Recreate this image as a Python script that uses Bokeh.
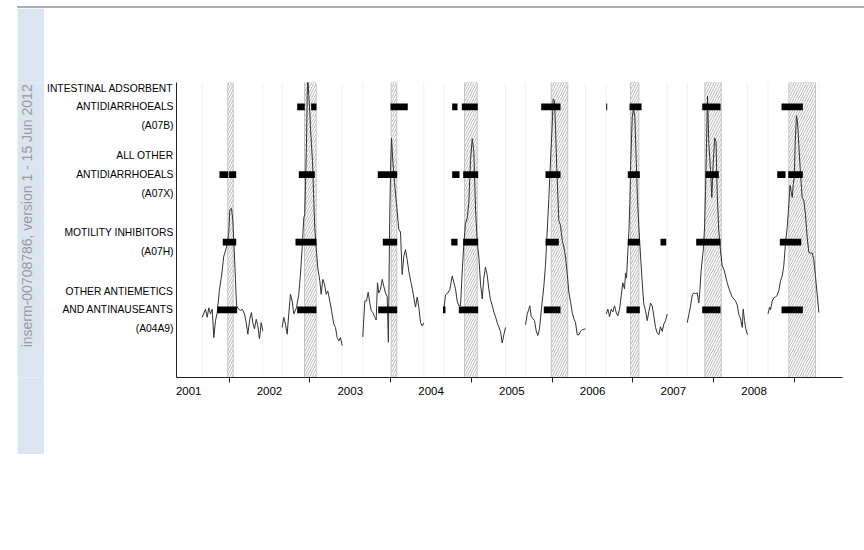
import numpy as np
from bokeh.plotting import figure
from bokeh.models import Range1d, FixedTicker, LinearAxis, Label, Div, Spacer
from bokeh.layouts import row, column
from bokeh.embed import file_html
from bokeh.resources import INLINE

# ---------------- data ----------------
years = [2001, 2002, 2003, 2004, 2005, 2006, 2007, 2008]

class_labels = {
    4: "INTESTINAL ADSORBENT\nANTIDIARRHOEALS\n(A07B)",
    3: "ALL OTHER\nANTIDIARRHOEALS\n(A07X)",
    2: "MOTILITY INHIBITORS\n(A07H)",
    1: "OTHER ANTIEMETICS\nAND ANTINAUSEANTS\n(A04A9)",
}

# epidemic periods (sentinel network), decimal years
epi_start = [2001.984, 2002.934, 2004.007, 2004.914, 2005.988, 2006.970, 2007.890, 2008.930]
epi_end = [2002.051, 2003.078, 2004.076, 2005.072, 2006.193, 2007.073, 2008.093, 2009.260]

# detected alert periods per drug class
a07b_start = [2002.843, 2003.016, 2003.998, 2004.762, 2004.881, 2005.864, 2006.669, 2006.957, 2007.857, 2008.839]
a07b_end = [2002.937, 2003.082, 2004.212, 2004.828, 2005.079, 2006.103, 2006.681, 2007.106, 2008.084, 2009.103]
a07x_start = [2001.881, 2002.000, 2002.863, 2003.841, 2004.762, 2004.898, 2005.917, 2006.936, 2007.898, 2008.786, 2008.922]
a07x_end = [2001.990, 2002.088, 2003.061, 2004.081, 2004.853, 2005.084, 2006.103, 2007.085, 2008.063, 2008.889, 2009.103]
a07h_start = [2001.922, 2002.822, 2003.903, 2004.750, 2004.898, 2005.917, 2006.936, 2007.341, 2007.783, 2008.818]
a07h_end = [2002.088, 2003.082, 2004.081, 2004.828, 2005.084, 2006.082, 2007.085, 2007.412, 2008.084, 2009.083]
a04a9_start = [2001.853, 2002.843, 2003.846, 2004.648, 2004.844, 2005.896, 2006.920, 2007.857, 2008.839]
a04a9_end = [2002.100, 2003.082, 2004.081, 2004.679, 2005.084, 2006.103, 2007.085, 2008.084, 2009.103]

# weekly series per season (decimal year, scaled value)
season1_t = [2001.667, 2001.708, 2001.729, 2001.749, 2001.770, 2001.791, 2001.811, 2001.832, 2001.853, 2001.881,
             2001.906, 2001.934, 2001.955, 2001.976, 2001.996, 2002.009, 2002.030, 2002.046, 2002.063, 2002.079,
             2002.092, 2002.120, 2002.141, 2002.162, 2002.191, 2002.212, 2002.232, 2002.256, 2002.277, 2002.293,
             2002.314, 2002.336, 2002.355, 2002.376, 2002.397, 2002.417]
season1_v = [0.89, 1.01, 0.89, 1.03, 0.94, 1.01, 0.59, 0.84, 0.96, 1.30, 1.50, 1.79, 1.87, 1.97, 2.14, 2.48, 2.50,
             2.33, 1.89, 1.45, 1.06, 1.01, 0.99, 1.01, 0.94, 0.81, 0.64, 0.86, 0.96, 0.81, 0.72, 0.86, 0.77, 0.57,
             0.81, 0.69]

season2_t = [2002.657, 2002.677, 2002.698, 2002.719, 2002.739, 2002.760, 2002.781, 2002.801, 2002.834, 2002.863,
             2002.884, 2002.905, 2002.925, 2002.937, 2002.958, 2002.967, 2002.974, 2002.987, 2002.999, 2003.008,
             2003.020, 2003.033, 2003.049, 2003.061, 2003.078, 2003.098, 2003.123, 2003.140, 2003.160, 2003.181,
             2003.202, 2003.222, 2003.247, 2003.268, 2003.296, 2003.317, 2003.338, 2003.358, 2003.379, 2003.400]
season2_v = [0.74, 0.89, 0.79, 0.64, 0.94, 1.23, 1.13, 0.94, 1.03, 1.23, 1.53, 1.92, 2.36, 2.41, 3.44, 4.17, 4.45,
             4.17, 3.93, 3.68, 3.44, 3.19, 2.60, 2.21, 1.92, 1.62, 1.43, 1.23, 1.45, 1.38, 1.23, 1.28, 1.13, 0.99,
             0.79, 0.74, 0.59, 0.54, 0.59, 0.47]

season3_t = [2003.655, 2003.680, 2003.701, 2003.722, 2003.738, 2003.759, 2003.779, 2003.800, 2003.821, 2003.837,
             2003.853, 2003.874, 2003.896, 2003.915, 2003.936, 2003.957, 2003.972, 2003.990, 2004.002, 2004.011,
             2004.027, 2004.048, 2004.081, 2004.101, 2004.122, 2004.143, 2004.163, 2004.184, 2004.205, 2004.225,
             2004.246, 2004.267, 2004.287, 2004.308, 2004.329, 2004.349, 2004.370, 2004.391, 2004.411]
season3_v = [0.60, 1.13, 1.13, 1.26, 1.13, 0.99, 0.96, 0.90, 0.85, 1.40, 1.25, 1.30, 1.45, 1.35, 1.25, 1.20, 0.52,
             2.48, 3.20, 3.54, 3.20, 2.88, 2.45, 2.19, 2.15, 1.52, 1.79, 1.89, 1.74, 1.57, 1.44, 1.32, 1.18, 1.04,
             1.19, 1.04, 0.81, 0.76, 0.81]

season4_t = [2004.658, 2004.679, 2004.708, 2004.733, 2004.762, 2004.803, 2004.824, 2004.844, 2004.865, 2004.886,
             2004.906, 2004.927, 2004.948, 2004.968, 2004.989, 2005.010, 2005.030, 2005.051, 2005.072, 2005.092,
             2005.113, 2005.134, 2005.153, 2005.174, 2005.196, 2005.215, 2005.236, 2005.257, 2005.277, 2005.298,
             2005.319, 2005.339, 2005.360, 2005.381, 2005.401, 2005.422]
season4_v = [1.00, 1.22, 1.25, 1.30, 1.50, 1.31, 1.13, 1.06, 1.06, 1.56, 1.97, 2.28, 2.35, 2.59, 3.21, 3.53, 3.34,
             2.49, 2.00, 1.78, 1.38, 1.16, 1.46, 1.63, 1.51, 1.31, 1.15, 1.07, 0.97, 0.90, 0.81, 0.75, 0.68, 0.51,
             0.63, 0.74]

season5_t = [2005.670, 2005.691, 2005.711, 2005.723, 2005.740, 2005.760, 2005.781, 2005.802, 2005.822, 2005.843,
             2005.868, 2005.896, 2005.917, 2005.938, 2005.958, 2005.979, 2006.000, 2006.012, 2006.029, 2006.041,
             2006.057, 2006.082, 2006.103, 2006.124, 2006.144, 2006.165, 2006.186, 2006.206, 2006.227, 2006.248,
             2006.268, 2006.289, 2006.310, 2006.330, 2006.351, 2006.372, 2006.392, 2006.413]
season5_v = [0.78, 0.94, 1.01, 1.06, 0.90, 0.87, 0.84, 0.69, 0.62, 0.72, 1.03, 1.34, 1.66, 2.15, 2.63, 3.20, 3.72,
             4.12, 4.09, 3.69, 3.09, 2.32, 2.25, 2.03, 1.93, 1.78, 1.54, 1.26, 1.12, 0.96, 0.87, 0.81, 0.63, 0.63,
             0.68, 0.71, 0.71, 0.72]

season6_t = [2006.669, 2006.689, 2006.710, 2006.731, 2006.751, 2006.772, 2006.793, 2006.812, 2006.834, 2006.855,
             2006.874, 2006.895, 2006.908, 2006.920, 2006.936, 2006.949, 2006.961, 2006.973, 2006.991, 2007.007,
             2007.023, 2007.040, 2007.056, 2007.072, 2007.093, 2007.114, 2007.134, 2007.155, 2007.177, 2007.196,
             2007.217, 2007.238, 2007.258, 2007.279, 2007.300, 2007.320, 2007.341, 2007.362, 2007.382, 2007.403,
             2007.424]
season6_v = [0.94, 1.01, 0.90, 1.01, 0.97, 1.06, 0.96, 0.91, 1.01, 1.21, 1.40, 1.31, 1.54, 1.47, 1.84, 2.13, 2.57,
             3.21, 3.85, 3.97, 3.85, 3.22, 2.63, 2.24, 1.81, 1.41, 1.09, 0.99, 0.84, 0.97, 1.10, 1.06, 0.91, 0.74,
             0.66, 0.63, 0.75, 0.68, 0.79, 0.84, 0.94]

season7_t = [2007.672, 2007.692, 2007.713, 2007.734, 2007.753, 2007.775, 2007.796, 2007.815, 2007.828, 2007.845,
             2007.870, 2007.886, 2007.898, 2007.911, 2007.923, 2007.939, 2007.960, 2007.976, 2007.991, 2008.012,
             2008.028, 2008.043, 2008.063, 2008.084, 2008.105, 2008.125, 2008.146, 2008.167, 2008.187, 2008.208,
             2008.229, 2008.249, 2008.270, 2008.291, 2008.311, 2008.332, 2008.353, 2008.365, 2008.381, 2008.397,
             2008.418]
season7_v = [0.81, 0.93, 1.06, 1.22, 1.25, 1.24, 1.25, 1.10, 1.28, 1.60, 1.88, 2.21, 2.75, 3.46, 4.16, 3.46, 3.07,
             2.66, 3.12, 3.54, 3.49, 2.72, 2.16, 1.87, 1.65, 1.60, 1.50, 1.40, 1.32, 1.25, 1.19, 1.16, 1.13, 1.07,
             0.93, 0.87, 0.74, 1.01, 0.84, 0.72, 0.63]

season8_t = [2008.672, 2008.691, 2008.703, 2008.724, 2008.744, 2008.765, 2008.783, 2008.806, 2008.827, 2008.848,
             2008.868, 2008.889, 2008.910, 2008.930, 2008.944, 2008.959, 2008.972, 2008.984, 2008.997, 2009.009,
             2009.024, 2009.037, 2009.053, 2009.074, 2009.095, 2009.115, 2009.136, 2009.157, 2009.177, 2009.198,
             2009.219, 2009.239, 2009.260, 2009.281, 2009.301]
season8_v = [0.94, 1.04, 1.00, 1.13, 1.18, 1.19, 1.21, 1.29, 1.43, 1.50, 1.66, 2.00, 2.22, 2.57, 2.84, 2.75, 2.66,
             2.85, 2.96, 3.49, 3.87, 3.78, 3.44, 3.01, 2.66, 2.62, 2.40, 2.07, 1.85, 1.84, 1.84, 1.74, 1.49, 1.22,
             0.96]

# ---------------- main figure ----------------
Y_TOP = 4.36
FONT = "Liberation Sans"
H = 446

p = figure(width=812, height=H,
           x_range=Range1d(2001.349, 2009.594), y_range=Range1d(0, Y_TOP),
           x_axis_type=None, y_axis_type=None,
           output_backend="svg", toolbar_location=None,
           min_border_left=132, min_border_right=14, min_border_top=74, min_border_bottom=77)
p.outline_line_color = None
p.background_fill_color = "white"
p.border_fill_color = "white"

# x axis: year labels centred in the year, tick marks at Jan 1
xaxis = LinearAxis(
    ticker=FixedTicker(ticks=[y + 0.5 for y in years], minor_ticks=[y + 1 for y in years]),
    major_label_overrides={y + 0.5: str(y) for y in years})
xaxis.axis_line_color = "#222222"
xaxis.axis_line_width = 1
xaxis.major_tick_line_color = None
xaxis.major_tick_out = 0
xaxis.major_tick_in = 0
xaxis.minor_tick_line_color = "#222222"
xaxis.minor_tick_out = 5
xaxis.minor_tick_in = 0
xaxis.major_label_standoff = 4
xaxis.major_label_text_font = FONT
xaxis.major_label_text_font_size = "11.5px"
xaxis.major_label_text_color = "black"
p.add_layout(xaxis, "below")

yaxis = LinearAxis(ticker=FixedTicker(ticks=[1, 2, 3, 4]), major_label_overrides=class_labels)
yaxis.axis_line_color = "#222222"
yaxis.major_tick_line_color = None
yaxis.minor_tick_line_color = None
yaxis.major_tick_out = 0
yaxis.major_tick_in = 0
yaxis.major_label_standoff = 3
yaxis.major_label_text_font = FONT
yaxis.major_label_text_font_size = "10.3px"
yaxis.major_label_text_line_height = 1.7
yaxis.major_label_text_color = "black"
p.add_layout(yaxis, "left")

season_ts = [season1_t, season2_t, season3_t, season4_t, season5_t, season6_t, season7_t, season8_t]
season_vs = [season1_v, season2_v, season3_v, season4_v, season5_v, season6_v, season7_v, season8_v]

# faint season boundaries
bounds = [s[0] for s in season_ts] + [s[-1] for s in season_ts]
p.segment(x0=bounds, y0=0, x1=bounds, y1=Y_TOP, line_color="#f1f1f1", line_width=1)

# hatched epidemic periods
p.quad(left=epi_start, right=epi_end, bottom=0, top=Y_TOP,
       fill_color=None, line_color="#c4c4c4", line_width=1,
       hatch_pattern="/", hatch_color="#b8b8b8", hatch_scale=5, hatch_weight=1)

# weekly series
p.multi_line(xs=season_ts, ys=season_vs, line_color="#333333", line_width=1)

# alert bars
for level, starts, ends in [(4, a07b_start, a07b_end), (3, a07x_start, a07x_end),
                            (2, a07h_start, a07h_end), (1, a04a9_start, a04a9_end)]:
    p.hbar(y=[level] * len(starts), left=starts, right=ends, height=0.1,
           fill_color="black", line_color=None)

# ---------------- watermark strip ----------------
strip = figure(width=27, height=H, x_range=Range1d(0, 27), y_range=Range1d(0, 1),
               x_axis_type=None, y_axis_type=None,
               output_backend="svg", toolbar_location=None, min_border=0)
strip.outline_line_color = None
strip.background_fill_color = "#dbe5f1"
strip.border_fill_color = "#dbe5f1"
strip.add_layout(Label(x=9, y=0.548, text="inserm-00708786, version 1 - 15 Jun 2012",
                       angle=np.pi / 2, text_align="center", text_baseline="middle",
                       text_font=FONT, text_font_size="14px", text_color="#9a9a9a"))

top_line = Div(text="", width=847, height=2, margin=0, styles={"background-color": "#adadad"})

layout = column(Spacer(width=10, height=6, margin=0),
                row(Spacer(width=17, height=2, margin=0), top_line),
                row(Spacer(width=17, height=H, margin=0), strip, p))

open("out.html", "w").write(file_html(layout, INLINE))
